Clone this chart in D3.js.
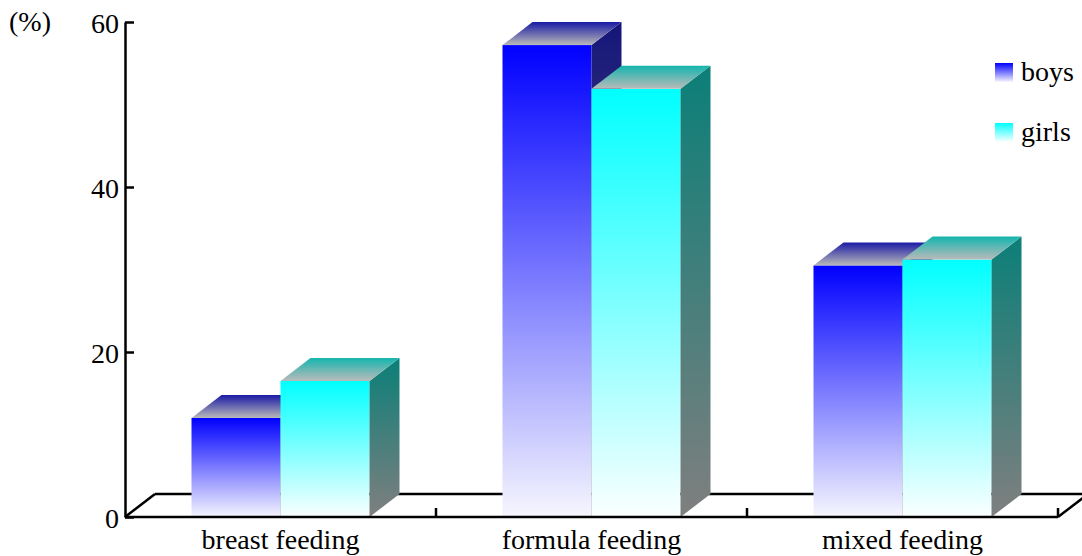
<!DOCTYPE html>
<html>
<head>
<meta charset="utf-8">
<script src="https://cdn.jsdelivr.net/npm/d3@7"></script>
<style>
  html, body { margin: 0; padding: 0; background: #fff; }
  svg { display: block; font-family: "Liberation Serif", "Times New Roman", serif; }
</style>
</head>
<body>
<svg id="chart" width="1082" height="556"></svg>
<script>
// Feeding type shares (%) by sex
const categories = ["breast feeding", "formula feeding", "mixed feeding"];
const seriesNames = ["boys", "girls"];
const boys = [12.0, 57.2, 30.5];
const girls = [16.5, 51.9, 31.2];
const yTicks = [0, 20, 40, 60];
const unitLabel = "(%)";

const W = 1082, H = 556;
const plot = { left: 125, right: 1058, top: 22, bottom: 517 };
const depthX = 30, depthY = -23;   // oblique offset of the 3D depth
const barW = 89;

const svg = d3.select("#chart");
const defs = svg.append("defs");

// colour sets for each series' faces
const palette = {
  boys:  { front: ["#0000ff", "#f6f6fe"], side: ["#15157a", "#7f7f7f"], top: ["#1a1aa6", "#b9b9b9"] },
  girls: { front: ["#00ffff", "#fbffff"], side: ["#0b7f78", "#7f7f7f"], top: ["#14b5ae", "#bababa"] }
};

function vGrad(id, c0, c1) {
  const g = defs.append("linearGradient").attr("id", id)
    .attr("x1", 0).attr("y1", 0).attr("x2", 0).attr("y2", 1);
  g.append("stop").attr("offset", "0%").attr("stop-color", c0);
  g.append("stop").attr("offset", "100%").attr("stop-color", c1);
}
seriesNames.forEach(s => {
  vGrad(`front-${s}`, palette[s].front[0], palette[s].front[1]);
  vGrad(`side-${s}`, palette[s].side[0], palette[s].side[1]);
  vGrad(`top-${s}`, palette[s].top[0], palette[s].top[1]);
});

const y = d3.scaleLinear().domain([0, 60]).range([plot.bottom, plot.top]);
const x = d3.scaleBand().domain(categories).range([plot.left, plot.right]).padding(0);
const xs = d3.scaleBand().domain(seriesNames).range([0, barW * 2]).padding(0);

const rows = categories.map((c, i) => ({ cat: c, values: { boys: boys[i], girls: girls[i] } }));

// floor: back edge and left/right depth edges
const floor = svg.append("g").attr("stroke", "#000").attr("stroke-width", 2.5).attr("fill", "none");
floor.append("line")
  .attr("x1", plot.left + depthX).attr("y1", y(0) + depthY)
  .attr("x2", plot.right + depthX).attr("y2", y(0) + depthY);
floor.append("line")
  .attr("x1", plot.left).attr("y1", y(0))
  .attr("x2", plot.left + depthX).attr("y2", y(0) + depthY);
floor.append("line")
  .attr("x1", plot.right).attr("y1", y(0))
  .attr("x2", plot.right + depthX).attr("y2", y(0) + depthY);

// 3D bars
const bars = svg.append("g");
rows.forEach(r => {
  const gx = x(r.cat) + (x.bandwidth() - barW * 2) / 2;
  seriesNames.forEach(s => {
    const v = r.values[s];
    const x0 = gx + xs(s), x1 = x0 + xs.bandwidth();
    const yt = y(v), yb = y(0);
    const g = bars.append("g");
    // front face
    g.append("rect")
      .attr("x", x0).attr("y", yt).attr("width", x1 - x0).attr("height", yb - yt)
      .attr("fill", `url(#front-${s})`);
    // right side face
    g.append("path")
      .attr("d", `M${x1},${yt}L${x1 + depthX},${yt + depthY}L${x1 + depthX},${yb + depthY}L${x1},${yb}Z`)
      .attr("fill", `url(#side-${s})`);
    // top face
    g.append("path")
      .attr("d", `M${x0},${yt}L${x0 + depthX},${yt + depthY}L${x1 + depthX},${yt + depthY}L${x1},${yt}Z`)
      .attr("fill", `url(#top-${s})`);
  });
});

// front floor edge with category ticks
const front = svg.append("g").attr("stroke", "#000").attr("stroke-width", 2.5);
front.append("line")
  .attr("x1", plot.left).attr("y1", y(0)).attr("x2", plot.right).attr("y2", y(0));
categories.forEach(c => {
  const tx = x(c) + x.bandwidth();
  front.append("line")
    .attr("x1", tx).attr("y1", y(0)).attr("x2", tx).attr("y2", y(0) - 9);
});

// category labels
svg.append("g").selectAll("text").data(categories).join("text")
  .attr("x", d => x(d) + x.bandwidth() / 2)
  .attr("y", 549)
  .attr("text-anchor", "middle")
  .attr("font-size", 28)
  .attr("fill", "#000")
  .text(d => d);

// value axis
const yAxis = d3.axisLeft(y).tickValues(yTicks).tickSizeInner(-9).tickSizeOuter(0).tickPadding(6);
const ya = svg.append("g").attr("transform", `translate(${plot.left},0)`).call(yAxis);
ya.select(".domain").attr("stroke-width", 2.5);
ya.selectAll(".tick line").attr("stroke-width", 2.5);
ya.selectAll(".tick text")
  .attr("font-size", 28)
  .attr("font-family", "Liberation Serif, Times New Roman, serif")
  .attr("dy", "0.38em")
  .attr("fill", "#000");

svg.append("text")
  .attr("x", 9).attr("y", 31)
  .attr("font-size", 28)
  .attr("fill", "#000")
  .text(unitLabel);

// legend
const legend = svg.append("g");
seriesNames.forEach((s, i) => {
  const ly = 63 + i * 60;
  legend.append("rect")
    .attr("x", 995).attr("y", ly).attr("width", 18).attr("height", 19)
    .attr("fill", `url(#front-${s})`);
  legend.append("text")
    .attr("x", 1021).attr("y", ly + 18)
    .attr("font-size", 28)
    .attr("fill", "#000")
    .text(s);
});
</script>
</body>
</html>
